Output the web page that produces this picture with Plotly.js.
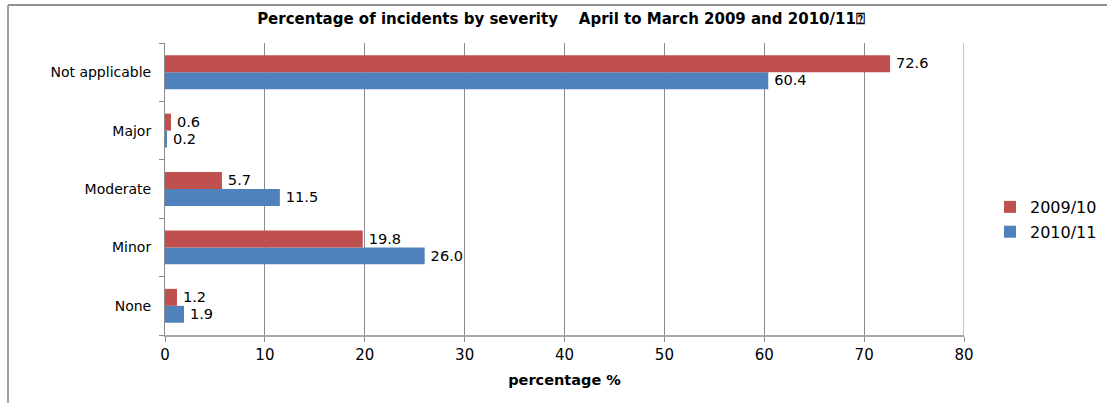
<!DOCTYPE html>
<html>
<head>
<meta charset="utf-8">
<script src="https://cdn.plot.ly/plotly-3.0.1.min.js"></script>
<style>
  html, body { margin: 0; padding: 0; background: #fff; }
  #chart { width: 1107px; height: 403px; }
</style>
</head>
<body>
<div id="chart"></div>
<script>
// Severity categories, listed bottom to top as the y axis stacks them
const categories = ["None", "Minor", "Moderate", "Major", "Not applicable"];
const values2009 = [1.2, 19.8, 5.7, 0.6, 72.6];
const values2010 = [1.9, 26.0, 11.5, 0.2, 60.4];
const seriesNames = ["2009/10", "2010/11"];
const xTicks = [0, 10, 20, 30, 40, 50, 60, 70, 80];

const sans = "DejaVu Sans, Verdana, sans-serif";
const labelFont = { family: sans, size: 15.5, color: "#000" };
const xMax = xTicks[xTicks.length - 1];

const traces = [
  {
    type: "bar", orientation: "h", name: seriesNames[1],
    legendgroup: "b", legendrank: 2,
    y: categories, x: values2010,
    marker: { color: "#4F81BD" },
    texttemplate: "\u2009%{x:.1f}", textposition: "outside",
    textfont: labelFont, cliponaxis: false, hoverinfo: "x+y"
  },
  {
    type: "bar", orientation: "h", name: seriesNames[0],
    legendgroup: "a", legendrank: 1,
    y: categories, x: values2009,
    marker: { color: "#C0504D" },
    texttemplate: "\u2009%{x:.1f}", textposition: "outside",
    textfont: labelFont, cliponaxis: false, hoverinfo: "x+y"
  }
];

const layout = {
  width: 1107, height: 403,
  margin: { l: 165, r: 143, t: 43, b: 68, autoexpand: false },
  paper_bgcolor: "#fff", plot_bgcolor: "#fff",
  barmode: "group", bargap: 0.42, bargroupgap: 0,
  title: {
    text: "<b>Percentage of incidents by severity\u00A0\u00A0\u00A0\u00A0April to March 2009 and 2010/11\u2370</b>",
    font: { family: sans, size: 15, color: "#000" },
    x: 561 / 1107, xanchor: "center", xref: "container",
    y: 1 - 19 / 403, yanchor: "middle", yref: "container"
  },
  xaxis: {
    range: [0, xMax], tickvals: xTicks, ticktext: xTicks.map(String),
    showgrid: true, gridcolor: "#8c8c8c", gridwidth: 1,
    zeroline: false, showline: true, linecolor: "#a6a6a6", linewidth: 2,
    ticks: "outside", ticklen: 5, tickcolor: "#8c8c8c",
    tickfont: { family: sans, size: 15, color: "#000" },
    title: { text: "<b>percentage %</b>", standoff: 12,
             font: { family: sans, size: 14.5, color: "#000" } },
    fixedrange: true
  },
  yaxis: {
    type: "category", categoryorder: "array", categoryarray: categories,
    showgrid: false, zeroline: false,
    showline: true, linecolor: "#8c8c8c", linewidth: 1,
    ticks: "outside", ticklen: 5, tickcolor: "#8c8c8c", tickson: "boundaries",
    tickfont: { family: sans, size: 14, color: "#000" },
    ticklabelstandoff: 10,
    fixedrange: true
  },
  showlegend: true,
  legend: {
    x: (990 - 165) / 799, xanchor: "left",
    y: (335 - 190) / 292, yanchor: "top",
    traceorder: "grouped", tracegroupgap: 1,
    font: { family: sans, size: 16, color: "#000" },
    bgcolor: "rgba(0,0,0,0)", itemwidth: 30
  },
  shapes: [
    // gridline at the far end of the value axis
    { type: "line", xref: "x", yref: "paper", layer: "below",
      x0: xMax, x1: xMax, y0: 0, y1: 1,
      line: { color: "#8c8c8c", width: 1 } },
    // chart frame: left and top edges
    { type: "line", xref: "paper", yref: "paper",
      x0: (8 - 165) / 799, x1: (8 - 165) / 799, y0: (335 - 403) / 292, y1: (335 - 5) / 292,
      line: { color: "#a0a0a0", width: 2 } },
    { type: "line", xref: "paper", yref: "paper",
      x0: (8 - 165) / 799, x1: (1107 - 165) / 799, y0: (335 - 5) / 292, y1: (335 - 5) / 292,
      line: { color: "#909090", width: 2 } }
  ]
};

Plotly.newPlot("chart", traces, layout, { displayModeBar: false, staticPlot: true });
</script>
</body>
</html>
